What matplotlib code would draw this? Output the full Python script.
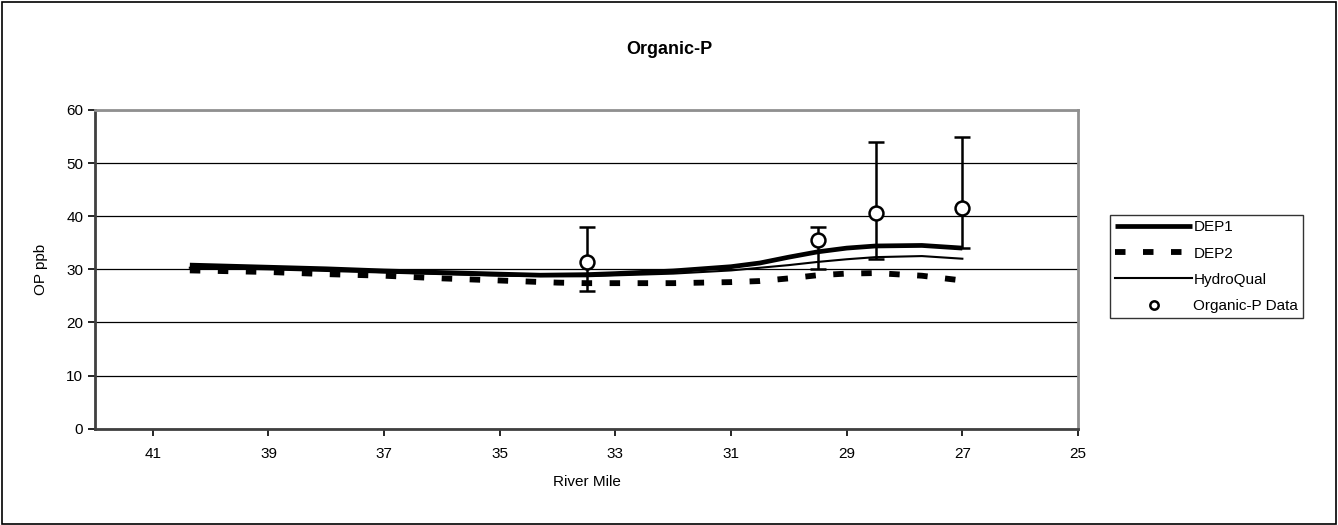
import numpy as np
import matplotlib
matplotlib.use("Agg")
import matplotlib.pyplot as plt
from matplotlib.patches import Rectangle

plt.rcParams['font.family'] = ['Liberation Sans', 'DejaVu Sans']

# model runs (river mile, OP ppb)
dep1_rm = [40.36, 39, 38, 37, 36, 35, 34.3, 33.5, 33, 32, 31, 30.5, 30, 29.5, 29, 28.5, 27.7, 27]
dep1_op = [30.8, 30.4, 30.1, 29.7, 29.4, 29.1, 28.9, 29.0, 29.2, 29.7, 30.5, 31.2, 32.3, 33.3, 34.0, 34.4, 34.5, 34.0]

dep2_rm = [40.36, 39, 38, 37, 36, 35, 34, 33.5, 33, 32, 31, 30.5, 30, 29.5, 29, 28.5, 27.7, 27]
dep2_op = [29.8, 29.5, 29.1, 28.8, 28.3, 27.9, 27.5, 27.4, 27.4, 27.4, 27.6, 27.8, 28.3, 28.9, 29.2, 29.3, 28.8, 27.9]

hq_rm = [40.36, 39, 37, 35, 33.5, 32, 31, 30.5, 30, 29.5, 29, 28.5, 27.7, 27]
hq_op = [30.3, 30.0, 29.4, 28.8, 28.7, 29.2, 29.8, 30.3, 30.8, 31.4, 31.9, 32.3, 32.5, 32.0]

# observations
obs_rm = [33.5, 29.5, 28.5, 27.0]
obs_op = [31.3, 35.5, 40.6, 41.5]
obs_hi = [38.0, 38.0, 54.0, 55.0]
obs_lo = [26.0, 30.0, 32.0, 34.0]

fig = plt.figure(figsize=(13.38, 5.25), dpi=100, facecolor="white")
fig.patches.append(Rectangle((0.0015, 0.002), 0.997, 0.995, transform=fig.transFigure,
                             fill=False, edgecolor="black", linewidth=1.2))

ax = fig.add_axes([95/1338, 1-428.7/525, (1078-95)/1338, (428.7-110)/525])

ax.plot(dep1_rm, dep1_op, color="black", lw=3.4, label="DEP1", solid_capstyle="butt", zorder=3)
ax.plot(dep2_rm, dep2_op, color="black", lw=4.2, dashes=(1.8, 3.0), label="DEP2", zorder=3)
ax.plot(hq_rm, hq_op, color="black", lw=1.5, label="HydroQual", zorder=3)

err = [np.array(obs_op) - np.array(obs_lo), np.array(obs_hi) - np.array(obs_op)]
ax.errorbar(obs_rm, obs_op, yerr=err, fmt="none", ecolor="black", elinewidth=1.8,
            capsize=5.5, capthick=1.8, zorder=4)
ax.plot(obs_rm, obs_op, "o", ms=10, mfc="white", mec="black", mew=1.8, ls="none",
        label="Organic-P Data", zorder=5)

ax.set_xlim(42, 25)
ax.set_ylim(0, 60)
ax.set_xticks(np.arange(41, 24, -2))
ax.set_yticks(np.arange(0, 61, 10))
ax.yaxis.grid(True, color="black", lw=0.9)
ax.set_axisbelow(True)
ax.tick_params(labelsize=11, length=5, width=1.2, direction="out", colors="black")
ax.tick_params(axis="x", pad=8)

for s in ["left", "bottom"]:
    ax.spines[s].set_color("#404040")
    ax.spines[s].set_linewidth(2)
for s in ["top", "right"]:
    ax.spines[s].set_color("#909090")
    ax.spines[s].set_linewidth(2)

ax.set_xlabel("River Mile", fontsize=11, labelpad=10)
ax.set_ylabel("OP ppb", fontsize=11, labelpad=13)
fig.text(0.5, 1-50/525, "Organic-P", ha="center", va="center", fontsize=13, fontweight="bold")

leg = fig.legend(loc="upper left", bbox_to_anchor=(1110/1338, 1-215/525), borderaxespad=0,
                 fontsize=11, frameon=True, fancybox=False, handlelength=5.0,
                 handletextpad=0.1, labelspacing=0.8, borderpad=0.35, markerscale=0.6)
leg.get_frame().set_edgecolor("black")
leg.get_frame().set_linewidth(1.0)

fig.savefig("out.png", dpi=100, facecolor="white")
